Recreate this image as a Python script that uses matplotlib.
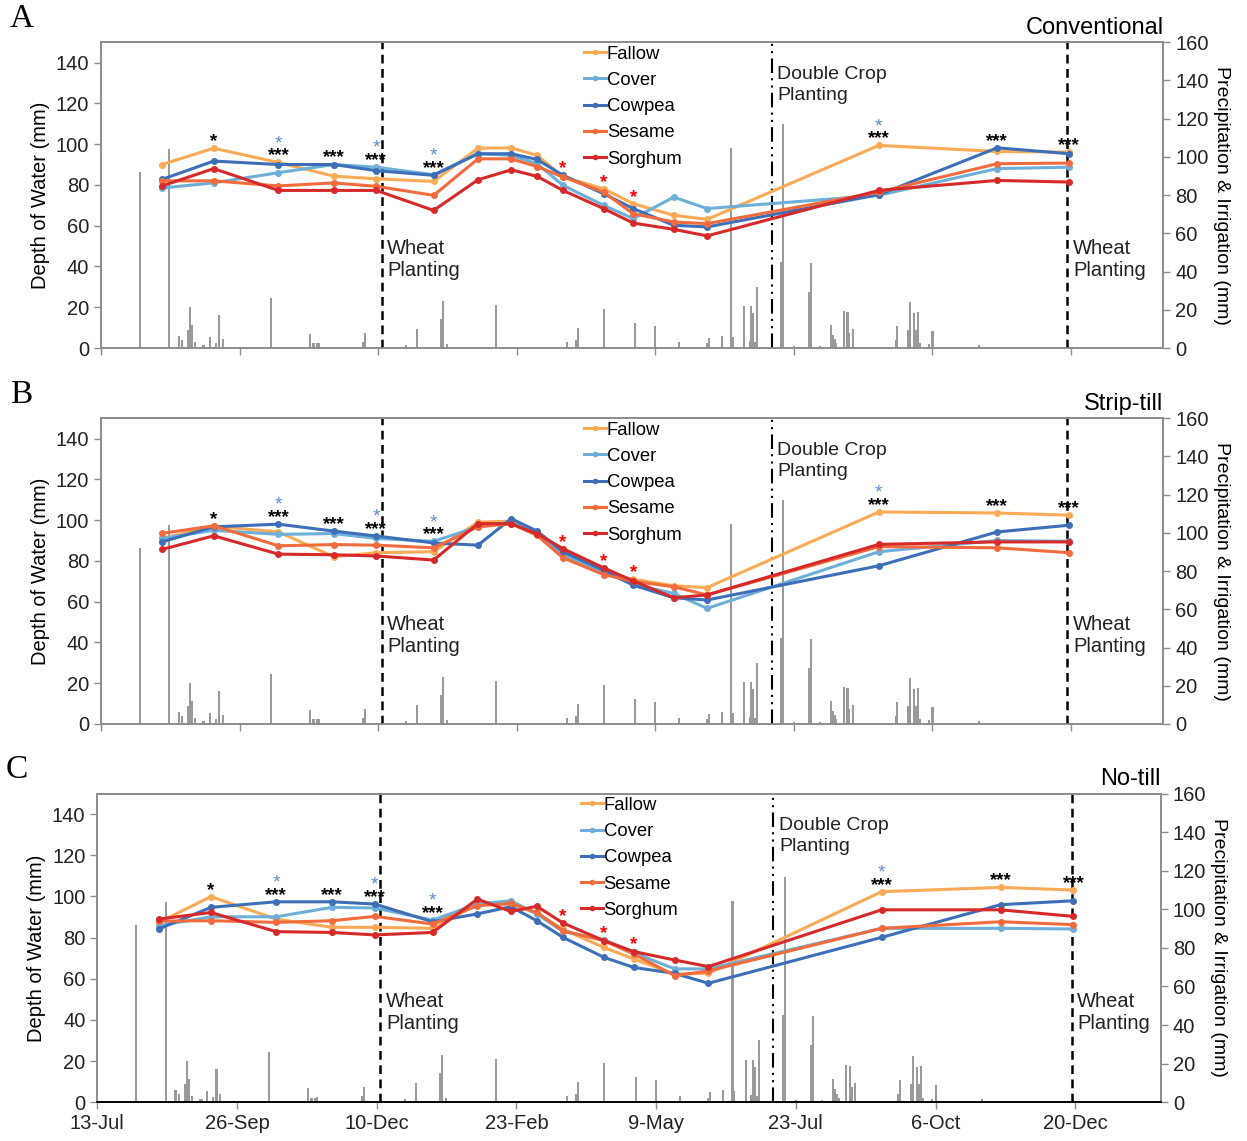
"""Soil water depth under five summer fallow treatments, three tillage systems.

Each panel shows depth of water for the treatments (left axis) over daily
precipitation + irrigation bars (right axis), from 13-Jul-2014 to 20-Dec-2015.
"""

import matplotlib

matplotlib.use("Agg")
import matplotlib.pyplot as plt  # noqa: E402

plt.rcParams["font.family"] = ["Liberation Sans", "DejaVu Sans"]

# x values are days after 13-Jul-2014
tick_days = [0, 75, 150, 225, 300, 375, 450, 525]
tick_labels = ["13-Jul", "26-Sep", "10-Dec", "23-Feb", "9-May", "23-Jul", "6-Oct", "20-Dec"]

sample_days = [33, 61, 96, 126, 149, 180, 204, 222, 236, 250, 272, 288, 310, 328, 421, 485, 524]

treatments = ["Fallow", "Cover", "Cowpea", "Sesame", "Sorghum"]
colors = ["#FBAA55", "#6DAFD8", "#3D6FB8", "#F26B3C", "#D62A2A"]

# Conventional tillage
conv_fallow = [90, 98, 91, 84.3, 83, 81.7, 98, 98.2, 94.5, 84, 78.1, 70.8, 65.1, 63.1, 99.4, 96.4, 96.1]
conv_cover = [78.5, 81, 86, 90, 88.7, 85, 95.3, 94.5, 90.4, 79.8, 70, 63.5, 74, 68.4, 74.9, 88, 88.7]
conv_cowpea = [82.7, 91.7, 90, 90, 87, 84.7, 95.3, 95.3, 92.5, 84.7, 75.7, 68.4, 60.2, 59.4, 75.2, 98.2, 95.3]
conv_sesame = [82, 82, 79.5, 81, 79.3, 74.9, 92.8, 92.8, 89, 83.9, 76.5, 65.9, 61.8, 61, 76.5, 90.4, 90.7]
conv_sorghum = [79.5, 88, 77.3, 77.3, 77.3, 67.5, 82.5, 87.4, 84.2, 77.3, 68.4, 61.3, 58.2, 55, 77.3, 82.2, 81.4]

# Strip-till
strip_fallow = [91, 97, 94.2, 82, 84, 84.5, 99, 99.5, 94.2, 81.9, 73.8, 71, 67.8, 66.9, 104, 103.5, 102.4]
strip_cover = [91, 95, 93, 93.4, 91, 89.6, 96.7, 99, 94.2, 83.2, 74.6, 68.5, 64, 56.7, 84.5, 90, 89.6]
strip_cowpea = [89.3, 96.7, 98, 94.6, 92.2, 88.8, 87.7, 100.7, 94.6, 84.5, 75.4, 68.1, 61.9, 60.8, 77.6, 94.2, 97.5]
strip_sesame = [93.5, 97.2, 87.4, 88, 87.7, 86.4, 96.7, 98.2, 92.5, 81.5, 73.3, 70, 67.3, 63.3, 87, 86.4, 84]
strip_sorghum = [85.6, 92.3, 83.3, 83, 82.4, 80.4, 98.3, 98.2, 93.3, 86, 76.6, 70.2, 61.9, 63.3, 88.1, 89.3, 89.3]

# No-till
notill_fallow = [87.4, 99.9, 89, 85, 85, 84.5, 96.3, 96.3, 91.8, 84, 75.2, 69.6, 62.3, 62.6, 102.3, 104.4, 103.1]
notill_cover = [85.8, 90.1, 90.1, 94.7, 94.4, 88.5, 96.3, 97.9, 91.5, 83, 79, 72.6, 64.8, 64.8, 84.5, 84.5, 84.2]
notill_cowpea = [84.2, 94.7, 97.4, 97.4, 96.3, 87.7, 91.5, 95, 88.2, 80.1, 70.4, 65.5, 62.6, 57.8, 80.1, 96, 97.9]
notill_sesame = [88, 88.2, 87.4, 88.2, 90.3, 86.6, 95.5, 96.6, 92.2, 83.3, 78.5, 72, 61.5, 63.8, 84.5, 87.7, 86.3]
notill_sorghum = [89, 92.2, 82.9, 82.5, 81.3, 82.5, 98.7, 92.7, 95.2, 87.1, 78.5, 73.2, 69.1, 65.9, 93.5, 93.5, 90.3]

panel_letters = ["A", "B", "C"]
panel_titles = ["Conventional", "Strip-till", "No-till"]
panel_series = [
    [conv_fallow, conv_cover, conv_cowpea, conv_sesame, conv_sorghum],
    [strip_fallow, strip_cover, strip_cowpea, strip_sesame, strip_sorghum],
    [notill_fallow, notill_cover, notill_cowpea, notill_sesame, notill_sorghum],
]
panel_bg = ["#EDE3D6", "#F4E5C6", "#DDEDEB"]

# significance marks per sampling date (index into sample_days)
sig_index = [1, 2, 3, 4, 5, 9, 10, 11, 14, 15, 16]
sig_label = ["*", "***", "***", "***", "***", "*", "*", "*", "***", "***", "***"]
sig_color = ["black", "black", "black", "black", "black", "red", "red", "red", "black", "black", "black"]
sig_blue_star = [False, True, False, True, True, False, False, False, True, False, False]

# daily precipitation + irrigation (mm)
rain_days = [21, 37, 42, 44, 47, 48, 49, 51, 55, 56, 59, 62, 64, 66, 92, 113, 115, 117, 118, 142,
             143, 165, 171, 184, 185, 187, 214, 252, 257, 258, 272, 289, 300, 313, 328, 329, 336, 341, 342, 348,
             351, 352, 353, 354, 355, 368, 369, 375, 383, 384, 389, 395, 396, 397, 398, 402, 404, 405, 407, 430,
             431, 437, 438, 440, 441, 442, 443, 448, 450, 475, 484]
rain_mm = [92, 104, 6.4, 4.2, 9.4, 21.6, 12, 3.3, 1.6, 1.6, 5.9, 2.8, 17.2, 4.5, 26, 7.3, 2.4, 2.4, 2.8, 3.3,
           8, 1.6, 9.8, 15, 24.6, 2, 22.5, 3.3, 4.2, 10.3, 20.2, 13.2, 11.5, 3, 2.4, 5.4, 6.3, 104.4, 5.6, 22,
           3.9, 22, 18.1, 3.3, 32, 45.1, 117, 1, 29.4, 44.6, 1, 12, 6.8, 4.5, 2.4, 19.3, 19, 7.7, 10, 4.2,
           11.5, 9.4, 23.9, 18.1, 9.4, 19, 2.4, 1.9, 8.9, 1.6, 0.5]

wheat_days = [152, 523]
double_crop_day = 363

TICK_FS = 14.5
SPINE_GREY = "#8c8c8c"


def draw_panel(fig, rect, xmax, letter, title, series, bg, bottom):
    ax = fig.add_axes(rect)
    ax2 = ax.twinx()
    # lines go on top of the rain bars
    ax.set_zorder(ax2.get_zorder() + 1)
    ax.patch.set_visible(False)
    ax2.set_facecolor(bg)

    ax2.bar(rain_days, rain_mm, width=1.1, color="#9a9a9a", linewidth=0)
    ax2.set_ylim(0, 160)
    ax2.set_yticks(range(0, 161, 20))

    for name, color, vals in zip(treatments, colors, series):
        ax.plot(sample_days, vals, color=color, lw=2.2, marker="o", ms=4,
                label=name, solid_joinstyle="round")

    for x in wheat_days:
        ax.axvline(x, color="black", lw=1.8, ls=(0, (3.5, 2.2)), zorder=1)
        ax.text(x + 3, 53.5, "Wheat\nPlanting", fontsize=14.5, va="top", ha="left",
                linespacing=1.22, color="#222222")
    ax.axvline(double_crop_day, color="black", lw=1.5, ls=(0, (7, 2.5, 1, 2.5, 1, 2.5)), zorder=1)
    ax.text(double_crop_day + 3, 138.5, "Double Crop\nPlanting", fontsize=14,
            va="top", ha="left", linespacing=1.3, color="#222222")

    for idx, label, col, blue in zip(sig_index, sig_label, sig_color, sig_blue_star):
        top = max(vals[idx] for vals in series)
        x = sample_days[idx]
        ax.text(x, top + 1.0, label, ha="center", va="baseline", fontsize=13.5,
                fontweight="bold", color=col)
        if blue:
            ax.text(x, top + 7.0, "*", ha="center", va="baseline", fontsize=14,
                    color="#5a8ccc")

    ax.set_xlim(0, xmax)
    ax.set_ylim(0, 150)
    ax.set_yticks(range(0, 141, 20))
    ax.set_xticks(tick_days)
    if bottom:
        ax.set_xticklabels(tick_labels)
    else:
        ax.set_xticklabels([])

    ax.set_ylabel("Depth of Water (mm)", fontsize=14.5, labelpad=4)
    ax2.set_ylabel("Precipitation & Irrigation (mm)", fontsize=14, rotation=270, labelpad=15)

    for a in (ax, ax2):
        for side in ("left", "right", "top", "bottom"):
            a.spines[side].set_color(SPINE_GREY)
            a.spines[side].set_linewidth(1.2)
        a.tick_params(labelsize=TICK_FS, colors="#222222", length=5, width=1,
                      color=SPINE_GREY)
    if bottom:
        ax2.spines["bottom"].set_color("black")
        ax.spines["bottom"].set_color("black")

    leg = ax.legend(loc="upper left", bbox_to_anchor=(0.444, 1.025), frameon=False,
                    fontsize=13.3, handlelength=1.2, handletextpad=0.05,
                    labelspacing=0.5, borderaxespad=0.2)
    for h in leg.get_lines():
        h.set_markersize(3)

    ax.text(1.0, 1.01, title, transform=ax.transAxes, ha="right", va="bottom", fontsize=17)
    ax.text(-0.086, 1.125, letter, transform=ax.transAxes, ha="left", va="top",
            fontsize=24, family=["Liberation Serif", "DejaVu Serif"])
    return ax


fig = plt.figure(figsize=(12.47, 11.41), dpi=100)
fig.patch.set_facecolor("white")

rects = [
    [0.081, 0.695, 0.852, 0.268],
    [0.081, 0.3655, 0.852, 0.268],
    [0.078, 0.034, 0.853, 0.2705],
]
xmaxes = [575, 575, 571]
for i in range(3):
    draw_panel(fig, rects[i], xmaxes[i], panel_letters[i], panel_titles[i],
               panel_series[i], panel_bg[i], bottom=(i == 2))

fig.savefig("out.png", dpi=100, facecolor="white")
plt.close(fig)
